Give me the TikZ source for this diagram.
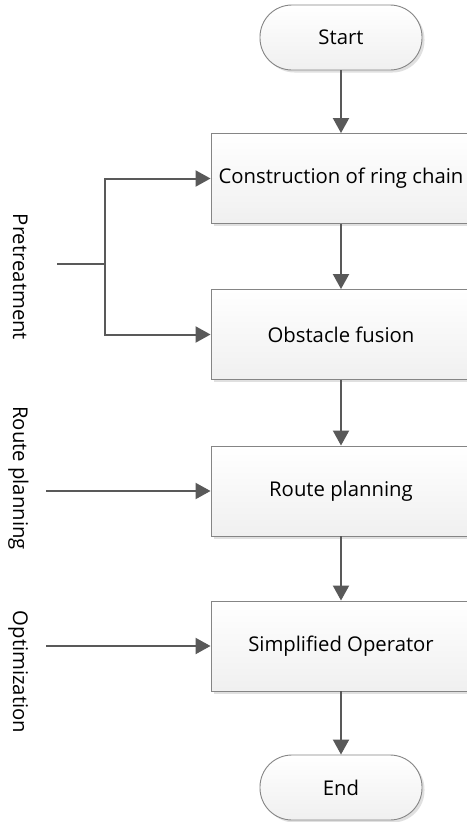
\documentclass[tikz,border=0pt]{standalone}
\usepackage{fontspec}
\setmainfont{Open Sans}
\usetikzlibrary{arrows.meta,shadows}
\definecolor{ln}{HTML}{595959}
\definecolor{bd}{HTML}{858585}
\begin{document}
\begin{tikzpicture}[x=1pt,y=-1pt,
  txt/.style={font=\fontsize{20.3}{24}\selectfont, text=black},
  procbox/.style={txt, draw=bd, line width=0.9pt, top color=white, bottom color=black!6,
    minimum width=260pt, minimum height=90pt, inner sep=0pt,
    drop shadow={shadow xshift=2.5pt, shadow yshift=-2.5pt, fill=black!12, opacity=1}},
  term/.style={txt, draw=bd, line width=0.9pt, top color=white, bottom color=black!6,
    rounded corners=32pt, minimum width=162pt, minimum height=65pt, inner sep=0pt,
    drop shadow={shadow xshift=2.5pt, shadow yshift=-2.5pt, fill=black!12, opacity=1}},
  conn/.style={draw=ln, line width=2pt, -{Triangle[length=15pt,width=16pt]}},
  plain/.style={draw=ln, line width=2pt},
  lab/.style={txt, rotate=-90, anchor=base, inner sep=0pt}]
\useasboundingbox (0,0) rectangle (466,822);
\fill[white] (0,0) rectangle (466,822);

\node[term] (start) at (341,37.5) {Start};
\node[procbox] (b1) at (341,178.5) {Construction of ring chain};
\node[procbox] (b2) at (341,334.5) {Obstacle fusion};
\node[procbox] (b3) at (341,491) {Route planning};
\node[procbox] (b4) at (341,646) {Simplified Operator};
\node[term] (end) at (341,787.5) {End};

\draw[conn] (start) -- (b1);
\draw[conn] (b1) -- (b2);
\draw[conn] (b2) -- (b3);
\draw[conn] (b3) -- (b4);
\draw[conn] (b4) -- (end);

\coordinate (pre) at (57,264);
\coordinate (j) at (105,264);
\coordinate (r) at (46,491);
\coordinate (o) at (46,646);
\draw[plain] (pre) -- (j);
\draw[conn] (j) |- (b1.west);
\draw[conn] (j) |- (b2.west);
\draw[conn] (r) -- (b3.west);
\draw[conn] (o) -- (b4.west);

\node[lab] (lpre) at (13,277) {Pretreatment};
\node[lab] (lroute) at (13,478) {Route planning};
\node[lab] (lopt) at (13,672) {Optimization};
\end{tikzpicture}
\end{document}
